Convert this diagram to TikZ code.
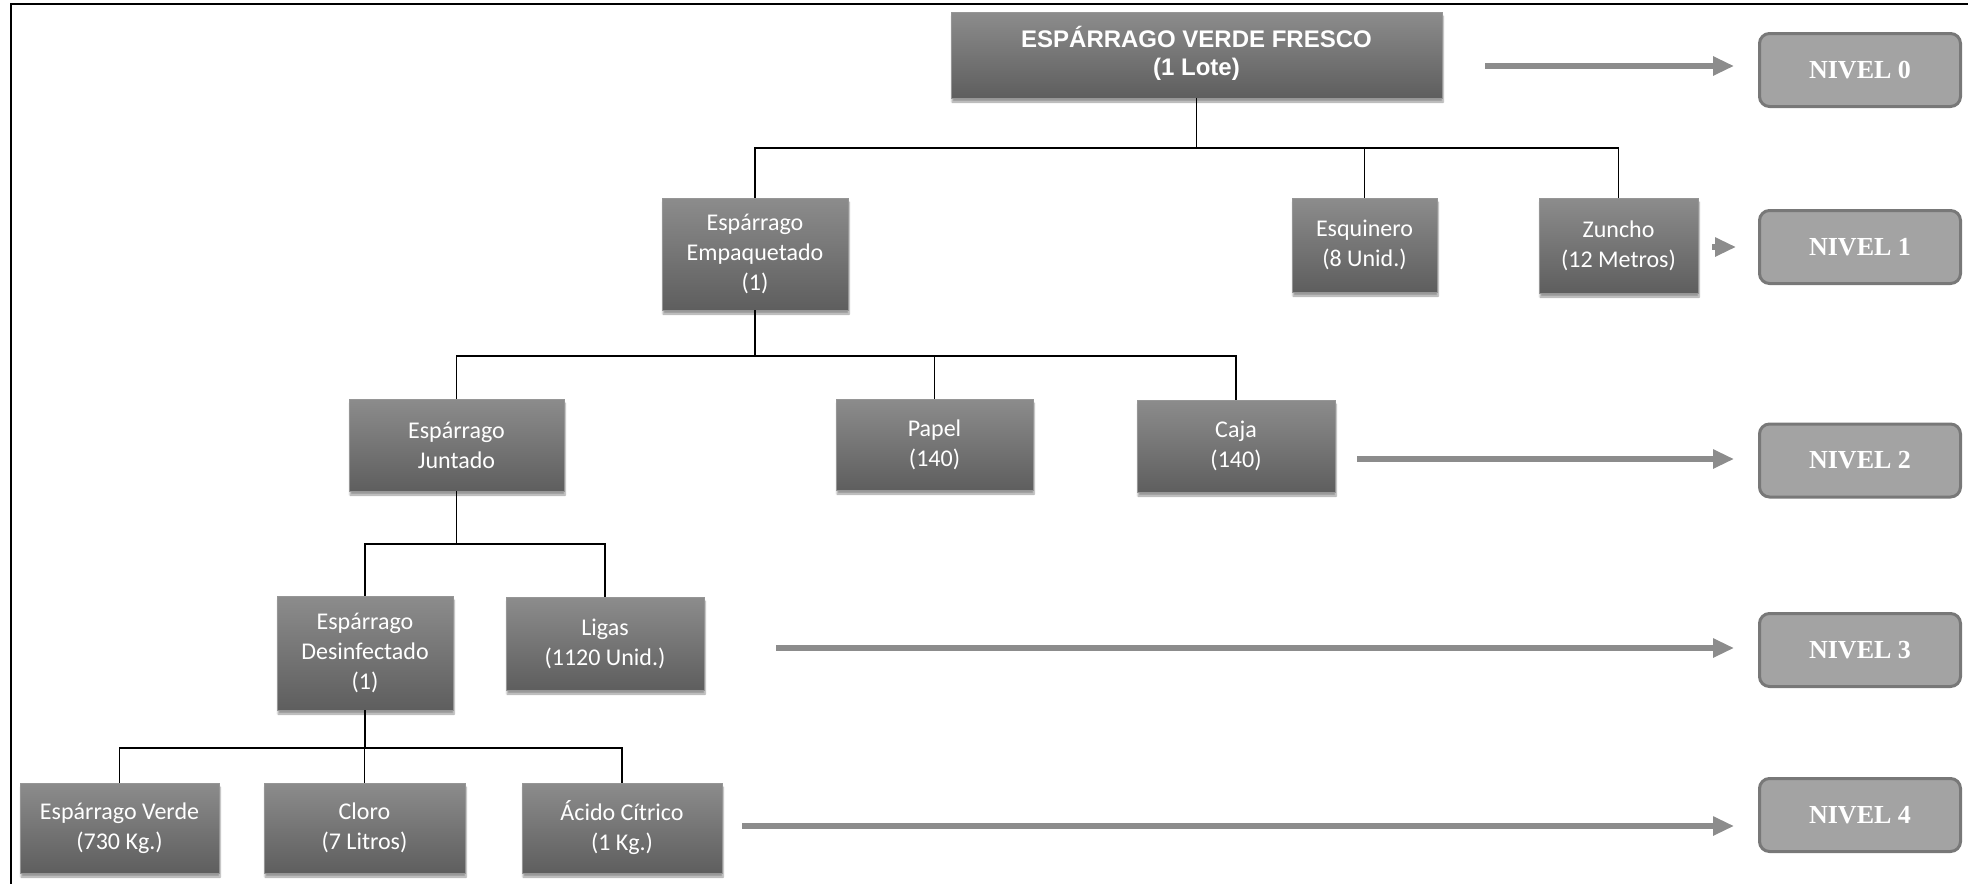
\documentclass[tikz,border=0pt]{standalone}
\usepackage{fontspec}
\usetikzlibrary{arrows.meta,shadows.blur}
\newfontfamily\boxfont{Carlito}
\newfontfamily\headfont{Liberation Sans}
\newfontfamily\levelfont{Liberation Serif}
\definecolor{boxtop}{RGB}{140,140,140}
\definecolor{boxbot}{RGB}{94,94,94}
\definecolor{boxedge}{RGB}{150,150,150}
\definecolor{levfill}{RGB}{163,163,163}
\definecolor{levedge}{RGB}{120,120,120}
\definecolor{arrowgray}{RGB}{140,140,140}
\begin{document}
\begin{tikzpicture}[x=1pt,y=-1pt,
  item/.style={draw=boxedge, line width=0.8pt, top color=boxtop, bottom color=boxbot,
    text=white, align=center, inner sep=0pt,
    font=\boxfont\fontsize{24}{30}\selectfont,
    blur shadow={shadow xshift=1pt, shadow yshift=-4pt, shadow opacity=40, shadow blur steps=6}},
  head/.style={item, font=\headfont\bfseries\fontsize{24}{28}\selectfont},
  level/.style={draw=levedge, line width=3pt, fill=levfill, rounded corners=10pt,
    text=white, inner sep=0pt, minimum width=201pt, minimum height=73pt,
    font=\levelfont\bfseries\fontsize{26}{30}\selectfont},
  conn/.style={draw=black, line width=1.8pt},
  lvarrow/.style={draw=arrowgray, line width=6pt,
    -{Triangle[length=21pt, width=18pt]}}
]
\useasboundingbox (0,0) rectangle (1968,884);

% outer frame
\draw[line width=2pt] (1968,4) -- (11,4) -- (11,884);

% product structure boxes
\node[head, minimum width=491pt, minimum height=86pt] (top) at (1196.5,55)
  {\raisebox{5pt}{\begin{tabular}{@{}c@{}}ESPÁRRAGO VERDE FRESCO\\(1 Lote)\end{tabular}}};

\node[item, minimum width=186pt, minimum height=112pt] (emp) at (755,254) {Espárrago\\Empaquetado\\(1)};
\node[item, minimum width=145pt, minimum height=94pt] (esq) at (1364.5,245) {Esquinero\\(8 Unid.)};
\node[item, minimum width=159pt, minimum height=95pt] (zun) at (1618.5,245.5) {Zuncho\\(12 Metros)};

\node[item, minimum width=215pt, minimum height=92pt] (jun) at (456.5,445) {Espárrago\\Juntado};
\node[item, minimum width=197pt, minimum height=91pt] (pap) at (934.5,444.5) {Papel\\(140)};
\node[item, minimum width=198pt, minimum height=92pt] (caj) at (1236,446) {Caja\\(140)};

\node[item, minimum width=176pt, minimum height=114pt] (des) at (365,653) {Espárrago\\Desinfectado\\(1)};
\node[item, minimum width=198pt, minimum height=93pt] (lig) at (605,643.5) {Ligas\\(1120 Unid.)};

\node[item, minimum width=199pt, minimum height=90pt] (ver) at (119.5,828) {Espárrago Verde\\(730 Kg.)};
\node[item, minimum width=201pt, minimum height=90pt] (clo) at (364.5,828) {Cloro\\(7 Litros)};
\node[item, minimum width=200pt, minimum height=90pt] (aci) at (622,828) {Ácido Cítrico\\(1 Kg.)};

% level labels
\node[level] (n0) at (1860,70) {NIVEL 0};
\node[level] (n1) at (1860,247) {NIVEL 1};
\node[level] (n2) at (1860,460.5) {NIVEL 2};
\node[level] (n3) at (1860,650) {NIVEL 3};
\node[level] (n4) at (1860,815) {NIVEL 4};

% tree connectors
\coordinate (b1) at (1196.5,148);
\draw[conn] (top.south) -- (b1);
\draw[conn] (emp.north) |- (zun.north |- b1) -- (zun.north);
\draw[conn] (esq.north) -- (esq.north |- b1);

\coordinate (b2) at (755,356);
\draw[conn] (emp.south) -- (b2);
\draw[conn] (jun.north) |- (caj.north |- b2) -- (caj.north);
\draw[conn] (pap.north) -- (pap.north |- b2);

\coordinate (b3) at (456.5,544);
\draw[conn] (jun.south) -- (b3);
\draw[conn] (des.north) |- (lig.north |- b3) -- (lig.north);

\coordinate (b4) at (365,748);
\draw[conn] (des.south) -- (b4);
\draw[conn] (ver.north) |- (aci.north |- b4) -- (aci.north);
\draw[conn] (clo.north) -- (clo.north |- b4);

% level arrows
\coordinate (a0s) at (1485,66);  \coordinate (a0e) at (1734,66);
\coordinate (a1s) at (1712,247); \coordinate (a1e) at (1736,247);
\coordinate (a2s) at (1357,459); \coordinate (a2e) at (1734,459);
\coordinate (a3s) at (776,648);  \coordinate (a3e) at (1734,648);
\coordinate (a4s) at (742,826);  \coordinate (a4e) at (1734,826);
\foreach \a in {0,...,4}{
  \draw[lvarrow, draw=black!12, shift={(1pt,-3pt)}] (a\a s) -- (a\a e);
  \draw[lvarrow] (a\a s) -- (a\a e);
}
\end{tikzpicture}
\end{document}
